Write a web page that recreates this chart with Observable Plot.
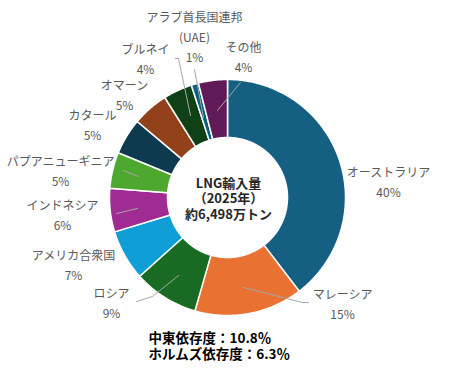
<!DOCTYPE html>
<html>
<head>
<meta charset="utf-8">
<script src="https://cdn.jsdelivr.net/npm/d3@7"></script>
<script src="https://cdn.jsdelivr.net/npm/@observablehq/plot@0.6"></script>
<style>
  html, body { margin: 0; padding: 0; background: #fff; }
  #chart { width: 450px; height: 371px; }
</style>
</head>
<body>
<div id="chart"></div>
<script>
// ---- data ----
const countries = ["オーストラリア", "マレーシア", "ロシア", "アメリカ合衆国", "インドネシア", "パプアニューギニア", "カタール", "オマーン", "ブルネイ", "アラブ首長国連邦", "その他"];
const labelNames = ["オーストラリア", "マレーシア", "ロシア", "アメリカ合衆国", "インドネシア", "パプアニューギニア", "カタール", "オマーン", "ブルネイ", "アラブ首長国連邦\n(UAE)", "その他"];
const shares = [40, 15, 9, 7, 6, 5, 5, 5, 4, 1, 4];
const shareLabels = ["40%", "15%", "9%", "7%", "6%", "5%", "5%", "5%", "4%", "1%", "4%"];
const centerLines = ["LNG輸入量", "（2025年）", "約6,498万トン"];
const noteLines = ["中東依存度：10.8％", "ホルムズ依存度：6.3％"];

// ---- style / layout ----
const colors = ["#156082", "#E97132", "#196B24", "#0F9ED5", "#A02B93", "#4EA72E", "#0D3A4E", "#93411A", "#0F4016", "#095F80", "#601A58"];
const W = 450, H = 371;
const cx = 227, cy = 197, rOut = 118, rIn = 60;
// label block centres (pixels)
const labelXY = [[388, 180], [342, 302], [111, 301], [73, 263], [62, 213], [60, 169], [92, 123], [124, 93], [145, 57], [194, 35], [243, 55]];
// leader lines (pixels)
const leaders = [
  { name: "マレーシア", pts: [[243, 287], [302, 302], [308, 302]] },
  { name: "ロシア", pts: [[178, 275], [152, 296], [136, 301]] },
  { name: "インドネシア", pts: [[116, 213], [137, 208]] },
  { name: "パプアニューギニア", pts: [[123, 170], [138, 176]] },
  { name: "ブルネイ", pts: [[175, 58], [178, 58], [190, 115]] },
  { name: "アラブ首長国連邦", pts: [[194, 69], [203, 117]] },
  { name: "その他", pts: [[240, 82], [217, 110]] }
];

const rows = countries.map((name, i) => ({ name, share: shares[i] }));
const arcs = d3.pie().sort(null).value(d => d.share)(rows);

const slicePts = arcs.flatMap(a => {
  const n = Math.max(3, Math.ceil((a.endAngle - a.startAngle) / 0.01));
  const pts = [];
  for (let k = 0; k <= n; k++) {
    const t = a.startAngle + (a.endAngle - a.startAngle) * k / n;
    pts.push({ name: a.data.name, x: cx + rOut * Math.sin(t), y: cy - rOut * Math.cos(t) });
  }
  for (let k = n; k >= 0; k--) {
    const t = a.startAngle + (a.endAngle - a.startAngle) * k / n;
    pts.push({ name: a.data.name, x: cx + rIn * Math.sin(t), y: cy - rIn * Math.cos(t) });
  }
  pts.push({ ...pts[0] });
  return pts;
});

const leaderPts = leaders.flatMap(l => l.pts.map(([x, y]) => ({ name: l.name, x, y })));
const labelRows = countries.map((name, i) => ({ name, x: labelXY[i][0], y: labelXY[i][1], text: labelNames[i] + "\n" + shareLabels[i] }));

const font = "'Noto Sans CJK JP', 'Noto Sans', sans-serif";

const chart = Plot.plot({
  width: W,
  height: H,
  margin: 0,
  x: { domain: [0, W], range: [0, W], axis: null },
  y: { domain: [0, H], range: [0, H], axis: null },
  color: { domain: countries, range: colors },
  style: { fontFamily: font, background: "#fff", overflow: "visible" },
  marks: [
    Plot.line(slicePts, { x: "x", y: "y", z: "name", fill: "name", stroke: "#fff", strokeWidth: 1.5, strokeLinejoin: "round", curve: "linear" }),
    Plot.line(leaderPts, { x: "x", y: "y", z: "name", stroke: "#A6A6A6", strokeWidth: 1 }),
    Plot.text(labelRows, { x: "x", y: "y", text: "text", fill: "#595959", fontSize: 12, lineHeight: 1.65 }),
    Plot.text([centerLines.join("\n")], { x: () => 228, y: () => 198, text: d => d, fill: "#262626", fontSize: 13, fontWeight: "bold", lineHeight: 1.18 }),
    Plot.text([noteLines.join("\n")], { x: () => 148, y: () => 345, text: d => d, fill: "#000", fontSize: 13.5, fontWeight: "bold", textAnchor: "start", lineHeight: 1.2 })
  ]
});

document.getElementById("chart").appendChild(chart);
</script>
</body>
</html>
